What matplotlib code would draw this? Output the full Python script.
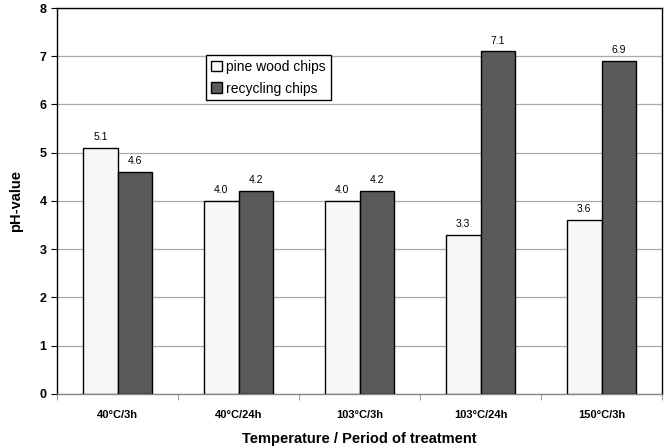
import numpy as np
import matplotlib.pyplot as plt

plt.rcParams['font.family'] = ['Liberation Sans', 'DejaVu Sans']

categories = ['40°C/3h', '40°C/24h', '103°C/3h', '103°C/24h', '150°C/3h']
pine = [5.1, 4.0, 4.0, 3.3, 3.6]
recycling = [4.6, 4.2, 4.2, 7.1, 6.9]

fig = plt.figure(figsize=(6.64, 4.48), dpi=100)
ax = fig.add_axes([0.086, 0.121, 0.911, 0.861])

x = np.arange(len(categories))
w = 0.285
b1 = ax.bar(x - w / 2, pine, w, color='#f7f7f7', edgecolor='black', linewidth=1.0,
            label='pine wood chips', zorder=3)
b2 = ax.bar(x + w / 2, recycling, w, color='#5a5a5a', edgecolor='black', linewidth=1.0,
            label='recycling chips', zorder=3)

for bars, vals in ((b1, pine), (b2, recycling)):
    for r, v in zip(bars, vals):
        ax.text(r.get_x() + r.get_width() / 2, v + 0.12, f'{v:.1f}',
                ha='center', va='bottom', fontsize=7.5)

ax.set_xlim(-0.5, len(categories) - 0.5)
ax.set_ylim(0, 8)
ax.set_yticks(range(0, 9))
ax.yaxis.grid(True, color='#aaaaaa', linewidth=0.9, zorder=0)
ax.set_axisbelow(True)

ax.set_xticks(x)
ax.set_xticklabels(categories, fontsize=8, fontweight='bold')
ax.tick_params(axis='x', which='major', length=0, pad=12)
ax.set_xticks(np.arange(-0.5, len(categories) + 0.5, 1), minor=True)
ax.tick_params(axis='x', which='minor', length=4, color='#888888')
ax.tick_params(axis='y', length=4, labelsize=9)
for lab in ax.get_yticklabels():
    lab.set_fontweight('bold')

for s in ax.spines.values():
    s.set_linewidth(1.0)
    s.set_color('black')
ax.spines['bottom'].set_color('#888888')

ax.set_ylabel('pH-value', fontsize=10.5, fontweight='bold', labelpad=12)
ax.set_xlabel('Temperature / Period of treatment', fontsize=10.5, fontweight='bold', labelpad=8)

leg = ax.legend(loc='upper left', bbox_to_anchor=(0.246, 0.878), fontsize=10,
                frameon=True, fancybox=False, edgecolor='black', framealpha=1,
                handlelength=0.8, handleheight=0.8, handletextpad=0.3,
                borderpad=0.35, labelspacing=0.55, borderaxespad=0)
leg.get_frame().set_linewidth(1.0)

fig.savefig('out.png', dpi=100)
